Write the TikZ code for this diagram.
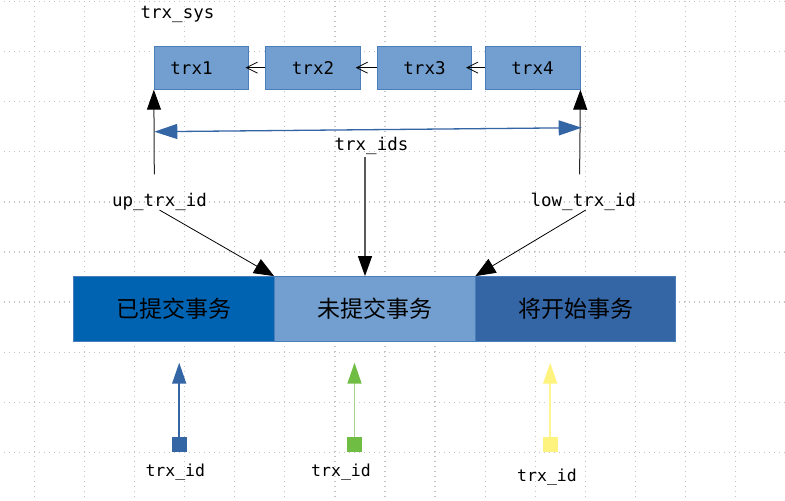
\documentclass[tikz,border=0pt]{standalone}
\usepackage{fontspec}
\newfontfamily\monof{DejaVu Sans Mono}
\newfontfamily\cjkf{Noto Sans CJK SC}
\usetikzlibrary{arrows.meta}
\definecolor{gridc}{RGB}{195,195,195}
\definecolor{boxfill}{RGB}{114,159,207}
\definecolor{boxline}{RGB}{74,126,187}
\definecolor{darkblue}{RGB}{0,99,177}
\definecolor{midblue}{RGB}{52,101,164}
\definecolor{sqgreen}{RGB}{112,189,68}
\definecolor{lngreen}{RGB}{169,209,142}
\definecolor{sqyellow}{RGB}{255,243,128}
\definecolor{lnyellow}{RGB}{255,245,145}
\begin{document}
\begin{tikzpicture}[x=1pt,y=-1pt,
  griddot/.style={gridc, line width=1.3pt, dash pattern=on 1.3pt off 3.7pt},
  trxbox/.style={draw=boxline, line width=0.8pt, fill=boxfill, minimum width=94.5pt,
    minimum height=43.3pt, inner sep=0pt, font=\monof\fontsize{17.5pt}{20pt}\selectfont},
  lbl/.style={inner sep=0pt, anchor=base, font=\monof\fontsize{17.5pt}{20pt}\selectfont},
  lblsmall/.style={inner sep=0pt, anchor=base, font=\monof\fontsize{16.5pt}{19pt}\selectfont},
  seg/.style={draw=boxline, line width=0.8pt, minimum width=200.5pt, minimum height=65pt,
    inner sep=0pt, font=\cjkf\fontsize{23pt}{26pt}\selectfont},
  sq/.style={minimum size=15pt, inner sep=0pt, draw=none},
  chain/.style={-{Straight Barb[length=11pt,width=11pt]}, line width=0.8pt, black},
  uparr/.style={-{Triangle[length=20pt,width=14pt,color=black]}, line width=1pt, black!85},
  diag/.style={-{Triangle[length=20pt,width=16pt]}, line width=0.8pt, black},
  downarr/.style={-{Triangle[length=20pt,width=14pt,color=black]}, line width=1.3pt, black!65},
  bluedbl/.style={{Triangle[length=23pt,width=15pt]}-{Triangle[length=23pt,width=15pt]}, midblue, line width=1.3pt},
  botarr/.style={-{Triangle[length=21pt,width=14pt]}, line width=1.6pt}
]
\useasboundingbox (0,0) rectangle (785,501);
\clip (0,0) rectangle (785,501);
\fill[white] (0,0) rectangle (785,501);
% grid
\foreach \k in {0,...,14} \draw[griddot] ({34.3+50.1*\k},0.85) -- ({34.3+50.1*\k},505);
\foreach \k in {0,...,9} \draw[griddot] (-1.35,{1.5+50.1*\k}) -- (790,{1.5+50.1*\k});

% top label
\node[lbl] (sys) at (177.5,18.3) {trx\_sys};

% trx boxes
\node[trxbox] (t1) at (201.5,67.65) {\hspace*{-20pt}trx1};
\node[trxbox, minimum width=94.6pt] (t2) at (313,67.65) {trx2};
\node[trxbox] (t3) at (424.5,67.65) {trx3};
\node[trxbox, minimum width=95pt] (t4) at (532.5,67.65) {trx4};

\draw[chain] (t2.west) -- ([xshift=-3.5pt]t1.east);
\draw[chain] (t3.west) -- ([xshift=-5pt]t2.east);
\draw[chain] (t4.west) -- ([xshift=-6pt]t3.east);

% bar
\node[seg, fill=darkblue] (done) at (174,309) {已提交事务};
\node[seg, fill=boxfill] (mid) at (374.75,309) {未提交事务};
\node[seg, fill=midblue] (todo) at (575.5,309) {将开始事务};

% labels
\node[lbl] (ids) at (371.5,150) {trx\_ids};
\node[lbl] (up) at (159.5,206.7) {up\_trx\_id};
\node[lbl] (low) at (583.3,206.7) {low\_trx\_id};

% up arrows
\coordinate (u1) at (154.3,174.3);
\coordinate (u4) at (579.6,174.3);
\draw[uparr] (u1) -- (t1.south west);
\draw[uparr] (u4) -- (t4.south east);

% blue double arrow
\coordinate (b1) at (154.3,131.7);
\coordinate (b2) at (581.7,127.7);
\draw[bluedbl] (b1) -- (b2);

% down arrow
\coordinate (d0) at (365,156.5);
\draw[downarr] (d0) -- (d0 |- mid.north);

% diagonal arrows
\draw[diag] ([yshift=1pt]up.south) -- (mid.north west);
\draw[diag] ([xshift=2.4pt,yshift=1pt]low.south) -- (mid.north east);

% bottom markers
\node[sq, fill=midblue] (s1) at (179.2,444.5) {};
\node[sq, fill=sqgreen] (s2) at (354.5,444.5) {};
\node[sq, fill=sqyellow] (s3) at (550.2,444.5) {};
\coordinate (e1) at (179.2,362.7);
\coordinate (e2) at (354.5,362.7);
\coordinate (e3) at (550.2,362.7);
\draw[botarr, midblue] (s1.north) -- (e1);
\draw[botarr, lngreen, -{Triangle[length=21pt,width=14pt,color=sqgreen]}] (s2.north) -- (e2);
\draw[botarr, lnyellow, -{Triangle[length=21pt,width=14pt,color=sqyellow]}] (s3.north) -- (e3);

\node[lblsmall] (l1) at (175.3,476) {trx\_id};
\node[lblsmall] (l2) at (341,476) {trx\_id};
\node[lblsmall] (l3) at (547,481.7) {trx\_id};
\end{tikzpicture}
\end{document}
